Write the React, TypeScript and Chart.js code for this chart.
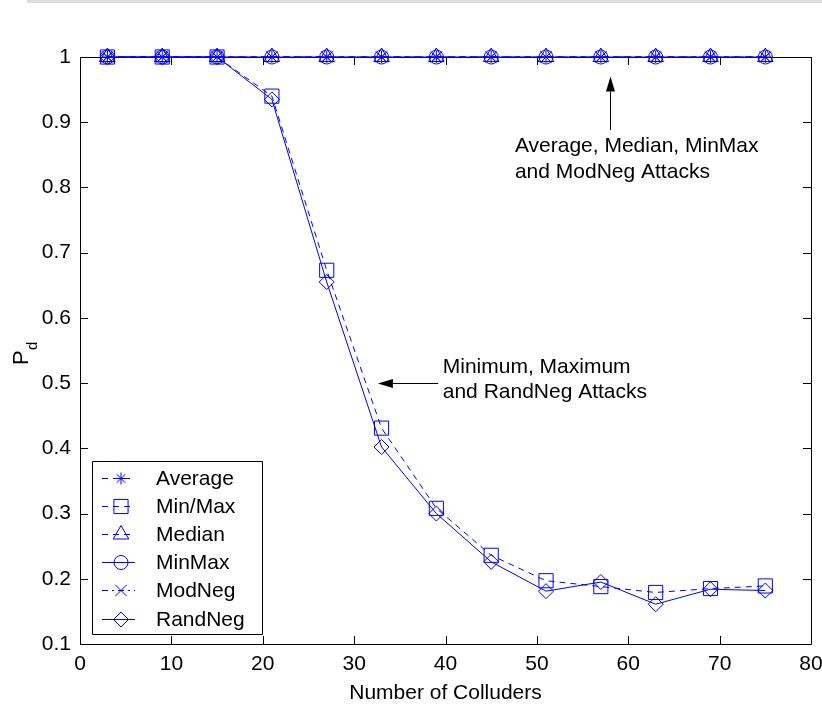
import React, { useEffect, useRef } from 'react';
import { Chart, registerables } from 'chart.js';
import { drawPoint } from 'chart.js/helpers';

Chart.register(...registerables);

// ---------- data ----------
const colluders = [3, 9, 15, 21, 27, 33, 39, 45, 51, 57, 63, 69, 75];
const averageAttack = [1, 1, 1, 1, 1, 1, 1, 1, 1, 1, 1, 1, 1];
const minOrMaxAttack = [1, 1, 1, 0.94, 0.673, 0.431, 0.308, 0.236, 0.197, 0.188, 0.179, 0.185, 0.189];
const medianAttack = [1, 1, 1, 1, 1, 1, 1, 1, 1, 1, 1, 1, 1];
const minMaxAttack = [1, 1, 1, 1, 1, 1, 1, 1, 1, 1, 1, 1, 1];
const modNegAttack = [1, 1, 1, 1, 1, 1, 1, 1, 1, 1, 1, 1, 1];
const randNegAttack = [1, 1, 1, 0.935, 0.655, 0.402, 0.3, 0.226, 0.181, 0.195, 0.161, 0.184, 0.182];

const seriesLabels = ['Average', 'Min/Max', 'Median', 'MinMax', 'ModNeg', 'RandNeg'];
const seriesValues = [averageAttack, minOrMaxAttack, medianAttack, minMaxAttack, modNegAttack, randNegAttack];

const xTickValues = [0, 10, 20, 30, 40, 50, 60, 70, 80];
const yTickValues = [0.1, 0.2, 0.3, 0.4, 0.5, 0.6, 0.7, 0.8, 0.9, 1];

const xAxisTitle = 'Number of Colluders';
const upperNote = ['Average, Median, MinMax', 'and ModNeg Attacks'];
const lowerNote = ['Minimum, Maximum', 'and RandNeg Attacks'];

// ---------- styles ----------
const BLUE = '#0000ff';
const FONT = '"Liberation Sans", Arial, Helvetica, sans-serif';
const styles = [
  { dash: [6, 5], pointStyle: 'star', radius: 6 },
  { dash: [6, 5], pointStyle: 'rect', radius: 10 },
  { dash: [6, 5], pointStyle: 'triangle', radius: 9 },
  { dash: [], pointStyle: 'circle', radius: 7 },
  { dash: [6, 4, 2, 4], pointStyle: 'crossRot', radius: 8 },
  { dash: [], pointStyle: 'rectRot', radius: 7.5 },
];

function arrow(ctx: CanvasRenderingContext2D, x1: number, y1: number, x2: number, y2: number) {
  const ang = Math.atan2(y2 - y1, x2 - x1);
  const len = 15;
  const hw = 4.5;
  const bx = x2 - len * Math.cos(ang);
  const by = y2 - len * Math.sin(ang);
  ctx.beginPath();
  ctx.moveTo(x1, y1);
  ctx.lineTo(bx, by);
  ctx.stroke();
  ctx.beginPath();
  ctx.moveTo(x2, y2);
  ctx.lineTo(bx + hw * Math.sin(ang), by - hw * Math.cos(ang));
  ctx.lineTo(bx - hw * Math.sin(ang), by + hw * Math.cos(ang));
  ctx.closePath();
  ctx.fill();
}

const matlabPlugin = {
  id: 'matlabLook',
  beforeDraw(chart: any) {
    const { ctx, width, height } = chart;
    ctx.save();
    ctx.fillStyle = '#ffffff';
    ctx.fillRect(0, 0, width, height);
    ctx.fillStyle = '#dcdcdc';
    ctx.fillRect(27, 0, width - 27, 3);
    ctx.restore();
  },
  beforeDatasetsDraw(chart: any) {
    const { ctx, chartArea: a, scales } = chart;
    ctx.save();
    ctx.strokeStyle = '#000';
    ctx.lineWidth = 1;
    ctx.beginPath();
    ctx.rect(a.left + 0.5, a.top + 0.5, a.right - a.left, a.bottom - a.top);
    ctx.stroke();
    const tl = 8;
    ctx.beginPath();
    xTickValues.forEach((v) => {
      const x = Math.round(scales.x.getPixelForValue(v)) + 0.5;
      ctx.moveTo(x, a.bottom);
      ctx.lineTo(x, a.bottom - tl);
      ctx.moveTo(x, a.top);
      ctx.lineTo(x, a.top + tl);
    });
    yTickValues.forEach((v) => {
      const y = Math.round(scales.y.getPixelForValue(v)) + 0.5;
      ctx.moveTo(a.left, y);
      ctx.lineTo(a.left + tl, y);
      ctx.moveTo(a.right, y);
      ctx.lineTo(a.right - tl, y);
    });
    ctx.stroke();
    ctx.restore();
  },
  afterDraw(chart: any) {
    const { ctx, chartArea: a, scales } = chart;
    const sx = scales.x;
    const sy = scales.y;
    ctx.save();
    ctx.fillStyle = '#000';
    ctx.strokeStyle = '#000';
    ctx.lineWidth = 1;
    ctx.textBaseline = 'alphabetic';
    ctx.textAlign = 'left';

    // x axis title
    ctx.font = `21px ${FONT}`;
    ctx.textAlign = 'center';
    ctx.fillText(xAxisTitle, (a.left + a.right) / 2, 699);

    // y axis title P_d
    ctx.save();
    ctx.translate(28, 365);
    ctx.rotate(-Math.PI / 2);
    ctx.textAlign = 'left';
    ctx.font = `22px ${FONT}`;
    ctx.fillText('P', 0, 0);
    ctx.font = `15px ${FONT}`;
    ctx.fillText('d', 15, 9);
    ctx.restore();

    // annotations
    ctx.font = `21px ${FONT}`;
    ctx.textAlign = 'left';
    const ux = sx.getPixelForValue(47.6);
    ctx.fillText(upperNote[0], ux, sy.getPixelForValue(0.855));
    ctx.fillText(upperNote[1], ux, sy.getPixelForValue(0.815));
    arrow(ctx, Math.round(sx.getPixelForValue(58)) + 0.5, sy.getPixelForValue(0.888),
      Math.round(sx.getPixelForValue(58)) + 0.5, sy.getPixelForValue(0.97));

    const lx = sx.getPixelForValue(39.7);
    ctx.fillText(lowerNote[0], lx, sy.getPixelForValue(0.515));
    ctx.fillText(lowerNote[1], lx, sy.getPixelForValue(0.477));
    const ay = Math.round(sy.getPixelForValue(0.5)) + 0.5;
    arrow(ctx, sx.getPixelForValue(39.2), ay, sx.getPixelForValue(32.6), ay);

    // legend
    const bl = a.left + 12;
    const bt = a.bottom - 183;
    const br = a.left + 182;
    const bb = a.bottom - 10;
    ctx.fillStyle = '#fff';
    ctx.fillRect(bl, bt, br - bl, bb - bt);
    ctx.beginPath();
    ctx.rect(bl + 0.5, bt + 0.5, br - bl, bb - bt);
    ctx.stroke();
    seriesLabels.forEach((label, i) => {
      const base = bt + 24 + i * 28.1;
      const my = Math.round(base - 7) + 0.5;
      const st = styles[i];
      ctx.save();
      ctx.strokeStyle = BLUE;
      ctx.fillStyle = 'rgba(0,0,0,0)';
      ctx.lineWidth = 1;
      ctx.setLineDash(st.dash);
      ctx.beginPath();
      ctx.moveTo(bl + 10, my);
      ctx.lineTo(bl + 43, my);
      ctx.stroke();
      ctx.setLineDash([]);
      drawPoint(ctx, { pointStyle: st.pointStyle as any, radius: st.radius, rotation: 0, borderWidth: 1 }, bl + 29, my);
      ctx.restore();
      ctx.fillStyle = '#000';
      ctx.font = `21px ${FONT}`;
      ctx.fillText(label, bl + 64, base);
    });
    ctx.restore();
  },
};

export default function App() {
  const ref = useRef<HTMLCanvasElement | null>(null);

  useEffect(() => {
    if (!ref.current) return;
    const datasets = seriesLabels.map((label, i) => ({
      label,
      data: colluders.map((x, j) => ({ x, y: seriesValues[i][j] })),
      borderColor: BLUE,
      backgroundColor: 'rgba(0,0,0,0)',
      borderWidth: 1,
      borderDash: styles[i].dash,
      pointStyle: styles[i].pointStyle as any,
      pointRadius: styles[i].radius,
      pointBorderColor: BLUE,
      pointBackgroundColor: 'rgba(0,0,0,0)',
      pointBorderWidth: 1,
      pointHoverRadius: styles[i].radius,
      tension: 0,
      fill: false,
      clip: false as any,
    }));

    const tickFont = { family: FONT, size: 21 };
    const chart = new Chart(ref.current, {
      type: 'line',
      data: { datasets },
      plugins: [matlabPlugin],
      options: {
        animation: false,
        responsive: false,
        devicePixelRatio: 1,
        layout: { padding: { top: 57, right: 11, left: 0, bottom: 0 } },
        plugins: { legend: { display: false }, tooltip: { enabled: false }, title: { display: false } },
        scales: {
          x: {
            type: 'linear',
            min: 0,
            max: 80,
            grid: { display: false, drawTicks: false },
            border: { display: false },
            afterBuildTicks: (s: any) => { s.ticks = xTickValues.map((v) => ({ value: v })); },
            afterFit: (s: any) => { s.height = 60; s.paddingLeft = 0; s.paddingRight = 0; },
            ticks: {
              padding: 8,
              maxRotation: 0,
              autoSkip: false,
              color: '#000',
              font: tickFont,
              callback: (v: any) => String(Number(Number(v).toFixed(1))),
            },
          },
          y: {
            type: 'linear',
            min: 0.1,
            max: 1,
            grid: { display: false, drawTicks: false },
            border: { display: false },
            afterBuildTicks: (s: any) => { s.ticks = yTickValues.map((v) => ({ value: v })); },
            afterFit: (s: any) => { s.width = 80; s.paddingTop = 0; s.paddingBottom = 0; },
            ticks: {
              padding: 9,
              autoSkip: false,
              color: '#000',
              font: tickFont,
              callback: (v: any) => String(Number(Number(v).toFixed(1))),
            },
          },
        },
      },
    });
    return () => chart.destroy();
  }, []);

  return (
    <div style={{ position: 'fixed', left: 0, top: 0, width: 822, height: 704, background: '#fff' }}>
      <canvas ref={ref} width={822} height={704} style={{ display: 'block' }} />
    </div>
  );
}
